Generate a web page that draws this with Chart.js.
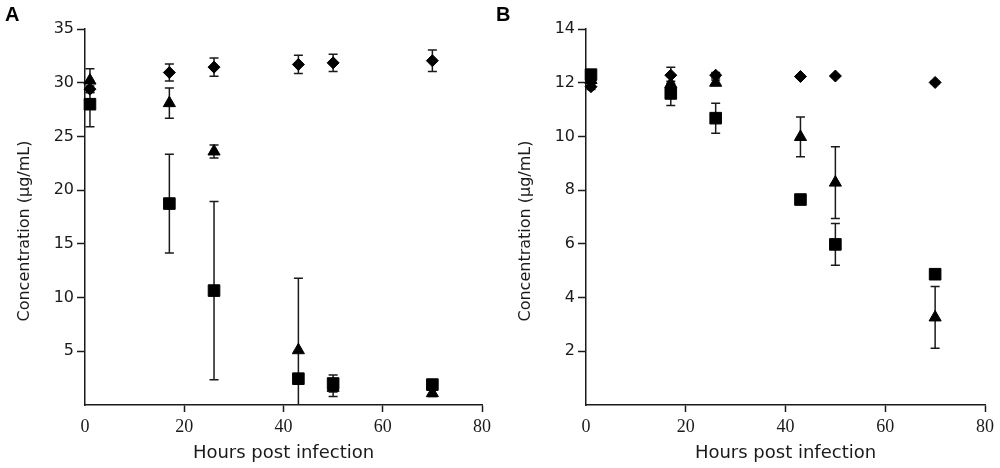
<!DOCTYPE html>
<html>
<head>
<meta charset="utf-8">
<script src="https://cdn.jsdelivr.net/npm/chart.js@4.4.1/dist/chart.umd.min.js"></script>
<style>
  html, body { margin: 0; padding: 0; background: #fff; }
  #wrap { position: relative; width: 1000px; height: 468px; }
  canvas { position: absolute; top: 0; }
  #chartA { left: 0; }
  #chartB { left: 495px; }
</style>
</head>
<body>
<div id="wrap">
  <canvas id="chartA" width="495" height="468"></canvas>
  <canvas id="chartB" width="505" height="468"></canvas>
</div>
<script>
// sampling times (hours post infection)
const hours = [1, 17, 26, 43, 50, 70];

// panel A
const diamondA = [29.4, 30.95, 31.45, 31.7, 31.85, 32.05];
const diamondAErr = [0.3, 0.8, 0.85, 0.85, 0.8, 1.0];
const triangleA = [30.2, 28.1, 23.6, 5.1, 1.6, 1.1];
const triangleAErr = [1.1, 1.4, 0.6, 6.7, 0.8, 0.3];
const squareA = [28.0, 18.75, 10.65, 2.45, 2.0, 1.9];
const squareAErr = [2.1, 4.6, 8.3, 0.3, 0.8, 0.2];
const yTicksA = [5, 10, 15, 20, 25, 30, 35];

// panel B
const diamondB = [11.85, 12.28, 12.28, 12.23, 12.25, 12.01];
const diamondBErr = [0.1, 0.3, 0.1, 0.05, 0.05, 0.05];
const triangleB = [12.1, 11.95, 12.0, 9.98, 8.28, 3.26];
const triangleBErr = [0.1, 0.3, 0.1, 0.74, 1.34, 1.15];
const squareB = [12.3, 11.6, 10.68, 7.65, 5.98, 4.87];
const squareBErr = [0.1, 0.45, 0.56, 0.1, 0.78, 0];
const yTicksB = [2, 4, 6, 8, 10, 12, 14];

const xTicks = [0, 20, 40, 60, 80];

const INK = '#1a1a1a';

function pts(vals) {
  return vals.map((v, i) => ({ x: hours[i], y: v }));
}

function makeSets(dia, diaErr, tri, triErr, sq, sqErr) {
  const base = { backgroundColor: '#000', borderColor: '#000', pointBorderWidth: 1, clip: false };
  return [
    Object.assign({ label: 'square', data: pts(sq), err: sqErr, pointStyle: 'rect', pointRadius: 8.2 }, base),
    Object.assign({ label: 'triangle', data: pts(tri), err: triErr, pointStyle: 'triangle', pointRadius: 7 }, base),
    Object.assign({ label: 'diamond', data: pts(dia), err: diaErr, pointStyle: 'rectRot', pointRadius: 6 }, base)
  ];
}

// error bars with caps, drawn under the markers
const errorBars = {
  id: 'errorBars',
  beforeDatasetsDraw(chart) {
    const ctx = chart.ctx, ys = chart.scales.y, a = chart.chartArea;
    ctx.save();
    ctx.beginPath();
    ctx.rect(a.left - 10, a.top - 10, a.right - a.left + 20, a.bottom - a.top + 10);
    ctx.clip();
    ctx.strokeStyle = INK;
    ctx.lineWidth = 1.5;
    chart.data.datasets.forEach((ds, di) => {
      const meta = chart.getDatasetMeta(di);
      meta.data.forEach((el, i) => {
        const e = ds.err[i];
        if (!e) return;
        const v = ds.data[i].y;
        const top = ys.getPixelForValue(v + e), bot = ys.getPixelForValue(v - e);
        ctx.beginPath();
        ctx.moveTo(el.x, top); ctx.lineTo(el.x, bot);
        ctx.moveTo(el.x - 4.5, top); ctx.lineTo(el.x + 4.5, top);
        ctx.moveTo(el.x - 4.5, bot); ctx.lineTo(el.x + 4.5, bot);
        ctx.stroke();
      });
    });
    ctx.restore();
  }
};

// panel letter and rotated y title
const decorations = {
  id: 'decorations',
  afterDraw(chart, args, opts) {
    const ctx = chart.ctx, a = chart.chartArea;
    ctx.save();
    ctx.fillStyle = '#000';
    ctx.font = 'bold 20px "Liberation Sans", Arial, sans-serif';
    ctx.textBaseline = 'top';
    ctx.textAlign = 'left';
    ctx.fillText(opts.letter, opts.letterX, 5);
    ctx.fillStyle = INK;
    ctx.font = '16px "DejaVu Sans", sans-serif';
    ctx.translate(a.left - 60, 231);
    ctx.rotate(-Math.PI / 2);
    ctx.textAlign = 'center';
    ctx.textBaseline = 'middle';
    ctx.fillText('Concentration (\u03bcg/mL)', 0, 0);
    ctx.restore();
  }
};

function makeChart(id, sets, yMax, yTicks, axisWidth, rightPad, letter, letterX) {
  return new Chart(document.getElementById(id), {
    type: 'scatter',
    data: { datasets: sets },
    plugins: [errorBars, decorations],
    options: {
      responsive: false,
      animation: false,
      layout: { padding: { top: 29, right: rightPad, bottom: 0, left: 0 } },
      plugins: {
        legend: { display: false },
        tooltip: { enabled: false },
        decorations: { letter: letter, letterX: letterX }
      },
      scales: {
        x: {
          type: 'linear', min: 0, max: 80,
          afterBuildTicks: s => { s.ticks = xTicks.map(v => ({ value: v })); },
          afterFit: s => { s.height = 63; },
          border: { color: INK, width: 1.5 },
          grid: {
            drawOnChartArea: false, tickLength: 7, tickWidth: 1.5,
            tickColor: c => (c.tick && c.tick.value === 0) ? 'rgba(0,0,0,0)' : INK
          },
          ticks: { color: INK, padding: 4, font: { family: '"Liberation Serif", "Times New Roman", serif', size: 18 } },
          title: {
            display: true, text: 'Hours post infection', color: INK,
            font: { family: '"DejaVu Sans", sans-serif', size: 18 },
            padding: { top: 0, bottom: 4 }
          }
        },
        y: {
          type: 'linear', min: 0, max: yMax,
          afterBuildTicks: s => { s.ticks = [0].concat(yTicks).map(v => ({ value: v })); },
          afterFit: s => { s.width = axisWidth; },
          border: { color: INK, width: 1.5 },
          grid: {
            drawOnChartArea: false, tickLength: 8, tickWidth: 1.5,
            tickColor: c => (c.tick && c.tick.value === 0) ? 'rgba(0,0,0,0)' : INK
          },
          ticks: {
            color: INK, padding: 3,
            font: { family: '"DejaVu Sans", sans-serif', size: 16 },
            callback: v => v === 0 ? '' : v
          }
        }
      }
    }
  });
}

makeChart('chartA', makeSets(diamondA, diamondAErr, triangleA, triangleAErr, squareA, squareAErr),
  35, yTicksA, 85, 12, 'A', 5);
makeChart('chartB', makeSets(diamondB, diamondBErr, triangleB, triangleBErr, squareB, squareBErr),
  14, yTicksB, 91, 15, 'B', 1);
</script>
</body>
</html>
